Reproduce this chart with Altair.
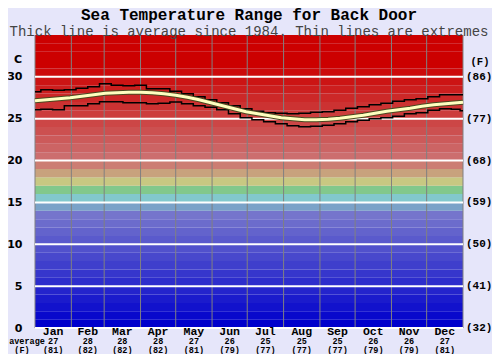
import altair as alt
import pandas as pd

# ---------------- data ----------------
DAYS = list(range(0, 361, 10)) + [365]
AVG = [27.14, 27.26, 27.38, 27.5, 27.68, 27.86, 28.04, 28.1, 28.15, 28.15, 28.1, 27.98,
       27.8, 27.56, 27.26, 26.9, 26.55, 26.19, 25.83, 25.6, 25.36, 25.12, 25.0, 24.88,
       24.88, 24.94, 25.06, 25.24, 25.42, 25.65, 25.89, 26.07, 26.25, 26.49, 26.67, 26.79,
       26.9, 26.96]
MAX = [28.21, 28.45, 28.39, 28.45, 28.63, 28.81, 29.17, 28.99, 28.93, 28.99, 28.57, 28.57,
       28.27, 27.98, 27.62, 27.26, 26.9, 26.55, 26.19, 25.89, 25.71, 25.65, 25.6, 25.65,
       25.77, 25.83, 26.01, 26.25, 26.43, 26.67, 26.85, 27.08, 27.26, 27.38, 27.62, 27.86,
       27.86, 27.86]
MIN = [26.07, 26.13, 26.07, 26.55, 26.55, 26.79, 27.02, 27.02, 26.9, 26.9, 26.79, 26.85,
       27.0, 26.79, 26.55, 26.37, 26.07, 25.6, 25.12, 24.88, 24.64, 24.4, 24.17, 24.05,
       24.11, 24.23, 24.4, 24.64, 24.82, 25.0, 25.12, 25.3, 25.6, 25.71, 26.01, 26.19,
       26.13, 25.95]

MONTHS = ["Jan", "Feb", "Mar", "Apr", "May", "Jun", "Jul", "Aug", "Sep", "Oct", "Nov", "Dec"]
MONTH_MID = [15.5, 45, 74.5, 105, 135.5, 166, 196.5, 227.5, 258, 288.5, 319, 349.5]
MONTH_AVG_C = ["27", "28", "28", "28", "27", "26", "25", "25", "25", "26", "26", "27"]
MONTH_AVG_F = ["(81)", "(82)", "(82)", "(82)", "(81)", "(79)", "(77)", "(77)", "(77)", "(79)", "(79)", "(81)"]
MONTH_EDGES = [0, 31, 59, 90, 120, 151, 181, 212, 243, 273, 304, 334, 365]
C_TICKS = [0, 5, 10, 15, 20, 25, 30]
F_LABELS = ["(32)", "(41)", "(50)", "(59)", "(68)", "(77)", "(86)"]

TITLE = "Sea Temperature Range for Back Door"
SUBTITLE = "Thick line is average since 1984. Thin lines are extremes"

# ---------------- background colour bands (1 degree each) ----------------
def band_color(k):
    if k <= 13:
        v = round(9 * k)
        return f"rgb({v},{v},204)"
    special = {14: "rgb(122,162,200)", 15: "rgb(130,200,205)", 16: "rgb(130,200,140)",
               17: "rgb(200,200,130)", 18: "rgb(200,162,125)", 19: "rgb(204,125,115)"}
    if k in special:
        return special[k]
    v = max(0, 10 * (31 - k))
    return f"rgb(204,{v},{v})"

bands = pd.DataFrame({
    "lo": list(range(0, 35)),
    "hi": list(range(1, 36)),
    "color": [band_color(k) for k in range(35)],
    "x0": [0] * 35,
    "x1": [365] * 35,
})

W, H = 428, 293
MONO = "Liberation Mono"

xs = alt.Scale(domain=[0, 365], nice=False, zero=False)
ys = alt.Scale(domain=[0, 35], nice=False, zero=False)

series = pd.DataFrame({"day": DAYS, "avg": AVG, "max": MAX, "min": MIN})
months = pd.DataFrame({"mid": MONTH_MID, "m": MONTHS, "c": MONTH_AVG_C, "f": MONTH_AVG_F})
fdf = pd.DataFrame({"t": C_TICKS, "f": F_LABELS})

band_layer = alt.Chart(bands).mark_rect().encode(
    x=alt.X("x0:Q", scale=xs, axis=None),
    x2="x1:Q",
    y=alt.Y("lo:Q", scale=ys, axis=alt.Axis(values=C_TICKS, ticks=False, domain=False, grid=False,
                                           labelFont="DejaVu Sans", labelFontWeight="bold",
                                           labelFontSize=11, labelPadding=13, title=None,
                                           labelColor="black")),
    y2="hi:Q",
    color=alt.Color("color:N", scale=None),
)

vgrid = alt.Chart(pd.DataFrame({"d": MONTH_EDGES})).mark_rule(color="#808080", strokeWidth=1).encode(
    x=alt.X("d:Q", scale=xs)
)
hgrid = alt.Chart(pd.DataFrame({"t": C_TICKS})).mark_rule(color="white", strokeWidth=2).encode(
    y=alt.Y("t:Q", scale=ys)
)

base = alt.Chart(series).encode(x=alt.X("day:Q", scale=xs))
max_line = base.mark_line(color="black", strokeWidth=1.5, interpolate="step").encode(y=alt.Y("max:Q", scale=ys))
min_line = base.mark_line(color="black", strokeWidth=1.5, interpolate="step").encode(y=alt.Y("min:Q", scale=ys))
avg_out = base.mark_line(color="#4a4a20", strokeWidth=5).encode(y=alt.Y("avg:Q", scale=ys))
avg_line = base.mark_line(color="#ffffc0", strokeWidth=3).encode(y=alt.Y("avg:Q", scale=ys))

mtext = alt.Chart(months).mark_text(font=MONO, fontWeight="bold", fontSize=11.5, baseline="middle").encode(
    x=alt.X("mid:Q", scale=xs), y=alt.value(H + 4), text="m:N")
ctext = alt.Chart(months).mark_text(font=MONO, fontWeight="bold", fontSize=8.5, baseline="middle").encode(
    x=alt.X("mid:Q", scale=xs), y=alt.value(H + 12.5), text="c:N")
ftext = alt.Chart(months).mark_text(font=MONO, fontWeight="bold", fontSize=8.5, baseline="middle").encode(
    x=alt.X("mid:Q", scale=xs), y=alt.value(H + 21.5), text="f:N")

avg_lab = alt.Chart(pd.DataFrame({"lab": ["average"]})).mark_text(
    font=MONO, fontWeight="bold", fontSize=8.5, baseline="middle", align="center").encode(
    x=alt.value(-8), y=alt.value(H + 12.5), text="lab:N")
f_lab = alt.Chart(pd.DataFrame({"lab": ["(F)"]})).mark_text(
    font=MONO, fontWeight="bold", fontSize=8.5, baseline="middle", align="center").encode(
    x=alt.value(-13), y=alt.value(H + 21.5), text="lab:N")

c_unit = alt.Chart(pd.DataFrame({"lab": ["C"], "t": [32]})).mark_text(
    font="DejaVu Sans", fontWeight="bold", fontSize=11, baseline="middle", align="right").encode(
    x=alt.value(-13), y=alt.Y("t:Q", scale=ys), text="lab:N")
f_unit = alt.Chart(pd.DataFrame({"lab": ["(F)"], "t": [31.8]})).mark_text(
    font=MONO, fontWeight="bold", fontSize=10.5, baseline="middle", align="center").encode(
    x=alt.value(W + 17), y=alt.Y("t:Q", scale=ys), text="lab:N")
f_ticks = alt.Chart(fdf).mark_text(
    font=MONO, fontWeight="bold", fontSize=11, baseline="middle", align="left").encode(
    x=alt.value(W + 3), y=alt.Y("t:Q", scale=ys), text="f:N")

chart = alt.layer(
    band_layer, vgrid, hgrid, max_line, min_line, avg_out, avg_line,
    mtext, ctext, ftext, avg_lab, f_lab, c_unit, f_unit, f_ticks
).properties(
    width=W, height=H,
    title=alt.TitleParams(TITLE, subtitle=SUBTITLE, font=MONO, fontSize=16, fontWeight="bold",
                          color="black", subtitleFont=MONO, subtitleFontSize=14,
                          subtitleColor="#444444", subtitlePadding=2, offset=-4, anchor="middle"),
    autosize=alt.AutoSizeParams(type="none"),
    padding={"left": 27, "top": 27, "right": 29, "bottom": 26},
).configure(background="#e6e6fa").configure_view(stroke=None)

chart.save("out.html", embed_options={"renderer": "svg", "actions": False})
